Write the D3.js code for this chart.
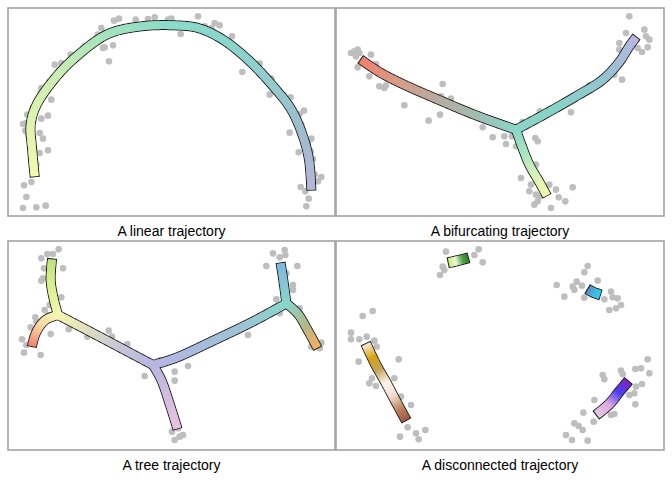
<!DOCTYPE html>
<html>
<head>
<meta charset="utf-8">
<script src="https://d3js.org/d3.v7.min.js"></script>
<style>
body { margin: 0; background: white; }
.cell { fill: #bebebe; }
.title { font-family: "Liberation Sans", Arial, sans-serif; font-size: 14px; fill: #000; }
</style>
</head>
<body>
<div id="chart"></div>
<script>
// cell positions and trajectory milestones in embedding units (x 0..984, y 0..630, y down)
var titles = ["A linear trajectory", "A bifurcating trajectory", "A tree trajectory", "A disconnected trajectory"];

var linearCells = [[318,38],[333,32],[383,35],[420,33],[440,28],[480,35],[490,32],[570,25],[590,55],[610,60],[620,45],[635,52],
  [518,78],[280,60],[270,80],[265,90],[285,120],[290,118],[315,112],[303,160],[230,115],[188,140],[160,165],[140,170],
  [125,220],[100,240],[98,255],[130,275],[110,262],[75,300],[58,320],[45,348],[55,345],[120,323],[100,332],[52,368],
  [60,380],[95,375],[105,392],[95,435],[120,427],[85,470],[70,522],[48,532],[55,567],[45,600],[85,598],[113,593],
  [672,85],[703,192],[755,167],[790,212],[785,260],[828,262],[848,268],[875,318],[888,308],[845,374],[880,350],
  [910,392],[900,405],[872,433],[908,430],[915,453],[920,500],[930,520],[940,507],[878,537],[892,550],[902,572],[895,595]];
var linearPaths = [
  [[80,505],[72,420],[68,350],[85,292],[140,212],[200,150],[300,78],[400,55],[500,52],[570,60],[640,92],[720,155],[800,240],[850,305],[885,385],[903,455],[910,545]]
];
var linearColors = [["#f3f8b0","#dcf2b0","#c6ecb4","#a2e2bf","#8cdac8","#8ad6cc","#93cccd","#9fbccd","#b6b7da"]];

var bifurcatingCells = [[45,135],[55,130],[65,125],[70,135],[60,145],[105,140],[65,178],[120,168],[100,205],[130,235],
  [145,240],[150,232],[200,225],[245,245],[205,292],[320,228],[315,265],[345,272],[312,320],[278,338],[440,358],
  [470,388],[505,385],[510,408],[540,415],[560,342],[598,390],[605,400],[612,310],[705,313],[600,470],[555,510],
  [580,550],[585,530],[600,560],[605,580],[595,590],[612,565],[640,530],[660,545],[668,568],[688,580],[645,600],
  [710,538],[760,232],[858,215],[835,200],[850,105],[850,125],[870,75],[880,25],[925,65],[930,85],[940,95],[935,118],
  [918,132],[905,120],[528,385]];
var bifurcatingPaths = [
  [[75,155],[130,192],[200,228],[300,272],[420,322],[540,365]],
  [[540,365],[620,322],[720,265],[800,215],[850,162],[880,115],[900,88]],
  [[540,365],[556,410],[580,470],[610,522],[632,562]]
];
var bifurcatingColors = [
  ["#f1806e","#d69c88","#b8aca0","#a2bcb2","#8ad6c6"],
  ["#8ad6c6","#8ad2c8","#94c4d2","#b8b6e2"],
  ["#8ad6c6","#a8e6c0","#d8f2b6","#f8f8ae"]
];

var treeCells = [[100,55],[118,42],[135,42],[152,28],[108,85],[165,85],[105,115],[100,122],[160,172],[110,210],
  [125,195],[120,225],[82,232],[85,245],[68,262],[42,298],[55,315],[48,338],[98,345],[128,282],[182,268],[238,290],
  [302,272],[312,290],[358,312],[410,408],[458,360],[500,395],[540,378],[500,422],[492,575],[500,600],[515,590],
  [525,585],[510,565],[795,40],[815,52],[830,30],[832,45],[775,78],[868,78],[835,100],[855,135],[855,150],[805,178],
  [875,205],[815,220],[720,285],[910,320],[940,308],[935,325]];
var treePaths = [
  [[132,58],[128,120],[136,172],[150,225]],
  [[150,225],[112,240],[84,278],[72,318]],
  [[150,225],[250,277],[350,330],[435,375]],
  [[435,375],[460,420],[485,492],[508,565]],
  [[435,375],[500,355],[620,300],[740,242],[835,190]],
  [[835,190],[830,150],[824,108],[818,70]],
  [[835,190],[870,222],[900,272],[928,323]]
];
var treeColors = [
  ["#bfe47e","#dcef92","#f4f6b2"],
  ["#f4f6b2","#f8d6a4","#f0806e"],
  ["#f4f6b2","#dcdcc4","#c6c4d6","#b8b6e2"],
  ["#b8b6e2","#d4bce0","#eac2e0"],
  ["#b8b6e2","#a8bcdc","#9cc4d4","#88d6c8"],
  ["#88d6c8","#86c6d6","#80b6e0"],
  ["#88d6c8","#b0ba8c","#f8ae5c"]
];

var disconnectedCells = [[330,35],[320,80],[325,90],[312,105],[428,28],[440,67],[415,45],
  [755,78],[745,97],[662,135],[710,140],[715,150],[722,125],[738,137],[785,122],[825,155],[830,172],[845,175],
  [855,195],[820,210],[840,205],[685,170],[745,173],[805,178],
  [80,228],[110,213],[45,278],[45,298],[70,298],[92,290],[115,302],[122,320],[68,365],[188,358],[108,415],[100,430],
  [120,438],[175,415],[195,470],[225,495],[205,535],[215,562],[192,590],[240,580],[248,598],[268,570],
  [935,358],[915,385],[898,387],[940,400],[855,392],[860,403],[800,405],[805,418],[918,432],[900,440],[880,465],
  [895,460],[898,493],[835,522],[825,525],[775,480],[742,518],[773,545],[715,550],[728,558],[740,570],[690,585],
  [708,600],[755,602]];
var disconnectedPaths = [
  [[338,68],[365,62],[396,54]],
  [[756,148],[772,157],[792,164]],
  [[90,312],[120,375],[150,428],[180,485],[210,540]],
  [[782,524],[820,492],[850,455],[876,424]]
];
var disconnectedColors = [
  ["#c8f078","#eef8e0","#58a848","#1e7a2c"],
  ["#5c8cc8","#44b6e0","#22d4f0"],
  ["#fae8d6","#d8a210","#c8a460","#fcf4ea","#f4e0d0","#c08868","#9a5a3e"],
  ["#e4c8e4","#e0a8e0","#4e40f0","#7e24c0"]
];

var panels = [
  {cells: linearCells, paths: linearPaths, colors: linearColors},
  {cells: bifurcatingCells, paths: bifurcatingPaths, colors: bifurcatingColors},
  {cells: treeCells, paths: treePaths, colors: treeColors},
  {cells: disconnectedCells, paths: disconnectedPaths, colors: disconnectedColors}
];

var W = 672, H = 480;
var boxes = [
  {x: 8, y: 8, w: 327, h: 208, oy: 8, band: 8},
  {x: 336, y: 8, w: 328, h: 208, oy: 8, band: 8},
  {x: 8, y: 241, w: 327, h: 209, oy: 240, band: 8},
  {x: 336, y: 241, w: 328, h: 209, oy: 240, band: 9}
];

var svg = d3.select("#chart").append("svg")
  .attr("width", W).attr("height", H)
  .style("background", "white");

function sampleBranch(g, pts, sx, sy) {
  var line = d3.line()
    .x(function(d) { return sx(d[0]); })
    .y(function(d) { return sy(d[1]); })
    .curve(d3.curveCatmullRom.alpha(0.5));
  var tmp = g.append("path").attr("d", line(pts)).attr("fill", "none");
  var L = tmp.node().getTotalLength();
  var n = Math.max(2, Math.ceil(L));
  var out = d3.range(n + 1).map(function(i) {
    var p = tmp.node().getPointAtLength(L * i / n);
    return [p.x, p.y];
  });
  tmp.remove();
  return out;
}

function extendEnds(s, by) {
  var a = s[0], b = s[1], c = s[s.length - 2], d = s[s.length - 1];
  var l1 = Math.hypot(a[0] - b[0], a[1] - b[1]) || 1;
  var l2 = Math.hypot(d[0] - c[0], d[1] - c[1]) || 1;
  var start = [a[0] + (a[0] - b[0]) / l1 * by, a[1] + (a[1] - b[1]) / l1 * by];
  var end = [d[0] + (d[0] - c[0]) / l2 * by, d[1] + (d[1] - c[1]) / l2 * by];
  return [start].concat(s, [end]);
}

panels.forEach(function(p, k) {
  var b = boxes[k];
  var sx = d3.scaleLinear().domain([0, 984]).range([b.x, b.x + 328]);
  var sy = d3.scaleLinear().domain([0, 630]).range([b.oy, b.oy + 210]);
  var g = svg.append("g");

  g.append("rect")
    .attr("x", b.x).attr("y", b.y).attr("width", b.w).attr("height", b.h)
    .attr("fill", "white").attr("stroke", "#a3a3a3").attr("stroke-width", 1.6);

  g.selectAll("circle.cell").data(p.cells).enter().append("circle")
    .attr("class", "cell")
    .attr("cx", function(d) { return sx(d[0]); })
    .attr("cy", function(d) { return sy(d[1]); })
    .attr("r", 3.3);

  var samples = p.paths.map(function(pts) { return sampleBranch(g, pts, sx, sy); });

  // black outlines first so junctions merge
  var outline = g.append("g");
  samples.forEach(function(s) {
    outline.append("path")
      .attr("d", d3.line()(extendEnds(s, 1)))
      .attr("fill", "none")
      .attr("stroke", "#1a1a1a")
      .attr("stroke-width", b.band + 2)
      .attr("stroke-linejoin", "round")
      .attr("stroke-linecap", "butt");
  });

  var inner = g.append("g");
  samples.forEach(function(s, j) {
    var cols = p.colors[j];
    var col = d3.scaleLinear()
      .domain(cols.map(function(c, i) { return i / (cols.length - 1); }))
      .range(cols)
      .interpolate(d3.interpolateRgb);
    var n = s.length - 1;
    for (var i = 0; i < n; i++) {
      var e = Math.min(n, i + 2);
      inner.append("line")
        .attr("x1", s[i][0]).attr("y1", s[i][1])
        .attr("x2", s[e][0]).attr("y2", s[e][1])
        .attr("stroke", col(i / n))
        .attr("stroke-width", b.band)
        .attr("stroke-linecap", "butt");
    }
  });

  svg.append("text")
    .attr("class", "title")
    .attr("x", b.x + b.w / 2)
    .attr("y", b.y + b.h + 20)
    .attr("text-anchor", "middle")
    .text(titles[k]);
});
</script>
</body>
</html>
